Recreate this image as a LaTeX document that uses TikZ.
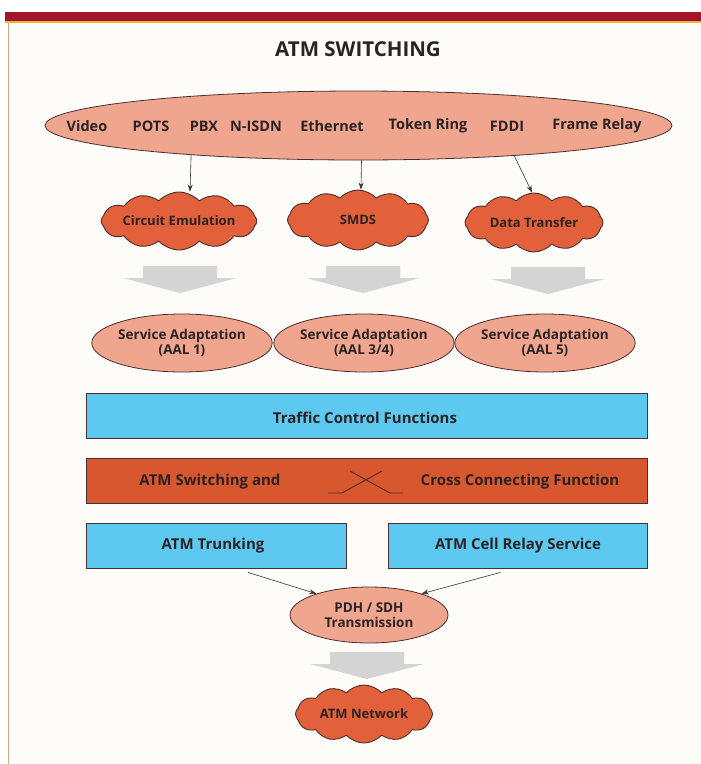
\documentclass[tikz,border=0pt]{standalone}
\usepackage{fontspec}
\setmainfont{Open Sans}
\usetikzlibrary{shapes.geometric,shapes.symbols,arrows.meta}
\definecolor{bgc}{HTML}{FDFCF9}
\definecolor{barred}{HTML}{A3142B}
\definecolor{baryel}{HTML}{E8B830}
\definecolor{tanl}{HTML}{C9AE86}
\definecolor{salmon}{HTML}{F0A58F}
\definecolor{cloudc}{HTML}{E2613A}
\definecolor{bluec}{HTML}{5DC9F1}
\definecolor{redc}{HTML}{D9572F}
\definecolor{grayc}{HTML}{D4D4D4}
\definecolor{edge}{HTML}{4A2E30}
\definecolor{txt}{HTML}{2B2224}
\definecolor{linec}{HTML}{3A3434}
\newcommand\grayarr[2]{%
  \fill[grayc] (#1-37,#2) -- (#1+37,#2) -- (#1+37,#2+12) -- (#1+57,#2+12)
    -- (#1,#2+27) -- (#1-57,#2+12) -- (#1-37,#2+12) -- cycle;}
\begin{document}
\begin{tikzpicture}[x=1pt,y=-1pt,
  ell/.style={ellipse, draw=edge, fill=salmon, line width=0.8pt, inner sep=0pt,
    text=txt, font=\bfseries\fontsize{13.5}{15.5}\selectfont, align=center},
  cld/.style={cloud, cloud puffs=12, cloud puff arc=95, cloud ignores aspect,
    draw=edge, fill=cloudc, line width=0.9pt, inner sep=0pt, text=txt,
    font=\bfseries\fontsize{13}{15}\selectfont},
  bar/.style={rectangle, draw=edge, line width=0.8pt, inner sep=0pt,
    minimum height=45pt},
  lbl/.style={text=txt, font=\bfseries\fontsize{15}{17}\selectfont, inner sep=0pt},
  toplbl/.style={text=txt, font=\bfseries\fontsize{14.5}{17}\selectfont, inner sep=0pt},
  conn/.style={draw=linec, line width=0.6pt, -{Stealth[length=7pt,width=5pt]}}]
\useasboundingbox (0,0) rectangle (701,764);
\fill[white] (0,0) rectangle (701,764);
\fill[bgc] (8,22) rectangle (701,764);
\fill[barred] (5,12) rectangle (701,21);
\fill[baryel] (5,21) rectangle (701,22.5);
\draw[tanl, line width=1pt] (8,22.5) -- (8,764);

\node[text=txt, font=\bfseries\fontsize{20.5}{24}\selectfont] (title) at (358,49) {ATM SWITCHING};

% top ellipse
\node[ell, minimum width=627pt, minimum height=69pt] (top) at (358.5,125.5) {};
\node[toplbl] (l1) at (87,126) {Video};
\node[toplbl] (l2) at (151,126) {POTS};
\node[toplbl] (l3) at (204,126) {PBX};
\node[toplbl] (l4) at (256,126) {N-ISDN};
\node[toplbl] (l5) at (332,126) {Ethernet};
\node[toplbl] (l6) at (428,126) {Token Ring};
\node[toplbl] (l7) at (507,126) {FDDI};
\node[toplbl] (l8) at (597,126) {Frame Relay};

% clouds
\node[cld, minimum width=138pt, minimum height=58pt] (ce) at (179,221) {Circuit Emulation};
\node[cld, minimum width=141pt, minimum height=60pt] (smds) at (358,220) {SMDS};
\node[cld, minimum width=138pt, minimum height=59pt] (dt) at (534,222.5) {Data Transfer};

\draw[conn] (top.190.5) -- ([xshift=11pt]ce.north);
\draw[conn] ([xshift=3pt]top.south) -- ([xshift=3pt]smds.north);
\draw[conn] (top.349) -- ([xshift=-2pt]dt.north);

% gray arrows
\grayarr{180}{266}
\grayarr{363}{266}
\grayarr{548}{267}

% service adaptation
\node[ell, minimum width=150pt, minimum height=58pt] (s1) at (182,343) {Service Adaptation\\(AAL 1)};
\node[ell, minimum width=150pt, minimum height=58pt] (s2) at (364,343) {Service Adaptation\\(AAL 3/4)};
\node[ell, minimum width=150pt, minimum height=58pt] (s3) at (545,343) {Service Adaptation\\(AAL 5)};

% bars
\node[bar, fill=bluec, minimum width=561pt] (tcf) at (366.5,415.5) {};
\node[lbl] (tcft) at (365,418) {Traffic Control Functions};
\node[bar, fill=redc, minimum width=561pt] (sw) at (366.5,480.5) {};
\node[lbl] (swa) at (210,482) {ATM Switching and};
\node[lbl] (swb) at (520,482) {Cross Connecting Function};
\draw[edge, line width=0.9pt] (328,493) -- (342,493) -- (382,471);
\draw[edge, line width=0.9pt] (350,471) -- (390,493) -- (403,493);
\node[bar, fill=bluec, minimum width=260pt] (tr) at (216,545.5) {};
\node[lbl] (trt) at (213,546) {ATM Trunking};
\node[bar, fill=bluec, minimum width=259pt] (cr) at (517.5,545.5) {};
\node[lbl] (crt) at (518,546) {ATM Cell Relay Service};

% PDH
\node[ell, minimum width=158pt, minimum height=56pt] (pdh) at (369,615) {PDH / SDH\\Transmission};
\draw[conn] ([xshift=32pt,yshift=-4pt]tr.south) -- (pdh.158);
\draw[conn] ([xshift=-17pt,yshift=-4pt]cr.south) -- (pdh.22);

\grayarr{367}{652}

\node[cld, minimum width=137pt, minimum height=58pt] (net) at (364,714) {ATM Network};
\end{tikzpicture}
\end{document}
